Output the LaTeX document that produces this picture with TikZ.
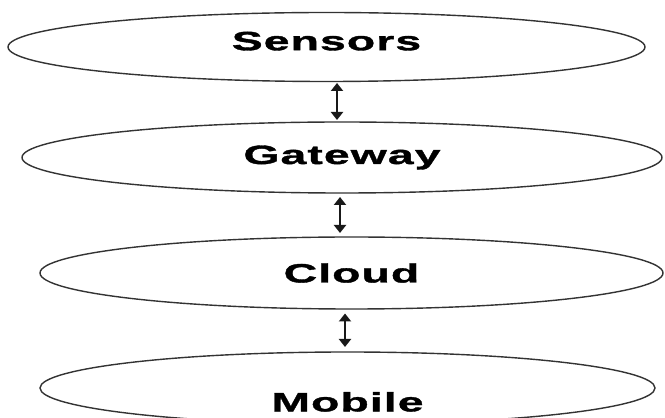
\documentclass[tikz,border=0pt]{standalone}
\usepackage{fontspec}
\newfontfamily\stagefont[FakeStretch=1.75,LetterSpace=4,FakeBold=1.4]{Liberation Sans}
\usepackage{tikz}
\usetikzlibrary{arrows.meta, positioning, shapes.geometric}
\definecolor{rimgray}{HTML}{333333}
\tikzset{
  stage/.style={draw=rimgray, ellipse, line width=1.4pt, fill=white,
                inner sep=0pt, outer sep=0pt, minimum height=70pt,
                font=\stagefont\bfseries\fontsize{26.5pt}{30pt}\selectfont},
  link/.style={{Triangle[width=12pt,length=8pt]}-{Triangle[width=12pt,length=8pt]},
               line width=2.6pt, black!90},
}

\begin{document}
\begin{tikzpicture}[x=1pt, y=1pt]

  \useasboundingbox (0,0) rectangle (665,418);

  %% the four layers
  \node[stage, minimum width=637pt, minimum height=69pt, text depth=12pt]
    (sensors) at (326.5,371) {Sensors};

  \node[stage, below=40.5pt of sensors, xshift=15.5pt,
        minimum width=640pt, minimum height=71pt]
    (gateway) {Gateway};

  \node[stage, below=44pt of gateway, xshift=9.5pt,
        minimum width=623pt, minimum height=72pt]
    (cloud) {Cloud};

  \node[stage, below=43pt of cloud, xshift=-4pt,
        minimum width=615pt, minimum height=72pt, text height=47pt]
    (mobile) {Mobile};

  %% two-way links
  \draw[link, shorten <=1.5pt, shorten >=2pt]
    ([xshift=10.5pt]sensors.south) -- ([xshift=-5pt]gateway.north);
  \draw[link, shorten <=4pt, shorten >=4pt]
    ([xshift=-2pt]gateway.south) -- ([xshift=-11.5pt]cloud.north);
  \draw[link, shorten <=4.5pt, shorten >=5pt]
    ([xshift=-6.5pt]cloud.south) -- ([xshift=-2.5pt]mobile.north);

\end{tikzpicture}
\end{document}
